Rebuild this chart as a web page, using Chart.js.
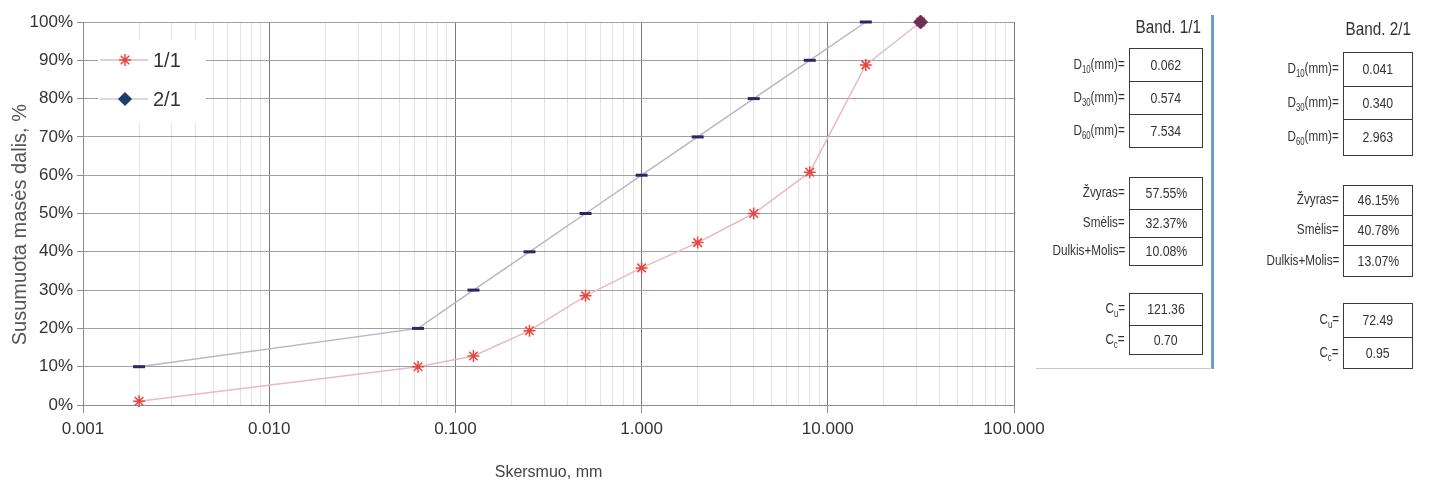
<!DOCTYPE html>
<html>
<head>
<meta charset="utf-8">
<script src="https://cdn.jsdelivr.net/npm/chart.js@4.4.0/dist/chart.umd.min.js"></script>
<style>
  body { margin: 0; background: #fff; width: 1441px; height: 486px; overflow: hidden; position: relative; }
  #wrap { position: absolute; left: 0; top: 0; width: 1060px; height: 486px; }
  .panel { position: absolute; font-family: "Liberation Sans", Arial, sans-serif; color: #333; font-size: 15px; }
  .title { position: absolute; font-size: 18px; text-align: right; white-space: nowrap; transform: scaleX(0.85); transform-origin: right center; }
  .lbl { position: absolute; text-align: right; white-space: nowrap; transform: scaleX(0.78); transform-origin: right center; }
  .box { position: absolute; border: 1.5px solid #3a3a3a; box-sizing: border-box; text-align: center; background: #fff; }
  .box span { display: inline-block; transform: scaleX(0.82); }
  sub { font-size: 10px; }
</style>
</head>
<body>
<div id="wrap"><canvas id="myChart"></canvas></div>
<div id="tables"></div>
<script>
// sieve sizes, mm
const sizes11 = [0.002, 0.063, 0.125, 0.25, 0.5, 1, 2, 4, 8, 16, 31.5];
const pass11 = [1, 10, 12.8, 19.4, 28.5, 35.8, 42.4, 50, 60.8, 88.8, 100];
const sizes21 = [31.5];
const pass21 = [100];
const sizesRef = [0.002, 0.063, 0.125, 0.25, 0.5, 1, 2, 4, 8, 16];
const passRef = [10, 20, 30, 40, 50, 60, 70, 80, 90, 100];
const yTicks = [0, 10, 20, 30, 40, 50, 60, 70, 80, 90, 100];

// right side tables
const band1 = { title: "Band. 1/1", d: ["0.062", "0.574", "7.534"], frac: ["57.55%", "32.37%", "10.08%"], c: ["121.36", "0.70"] };
const band2 = { title: "Band. 2/1", d: ["0.041", "0.340", "2.963"], frac: ["46.15%", "40.78%", "13.07%"], c: ["72.49", "0.95"] };
const dLabels = ["D<sub>10</sub>(mm)=", "D<sub>30</sub>(mm)=", "D<sub>60</sub>(mm)="];
const fracLabels = ["Žvyras=", "Smėlis=", "Dulkis+Molis="];
const cLabels = ["C<sub>u</sub>=", "C<sub>c</sub>="];

function isDecade(v) {
  let l = Math.log10(v);
  return Math.abs(l - Math.round(l)) < 1e-6;
}

function toXY(xs, ys) {
  return xs.map((x, i) => ({ x: x, y: ys[i] }));
}

const legendBox = {
  id: "legendBox",
  afterDatasetsDraw(chart) {
    const c = chart.ctx;
    c.save();
    c.fillStyle = "#fff";
    c.fillRect(98, 40, 108, 82);
    const items = [
      { y: 60, line: "#e9b9c1", text: "1/1", style: "star", col: "#e8453f" },
      { y: 99, line: "#d6c8cc", text: "2/1", style: "rectRot", col: "#1f3d6b" }
    ];
    items.forEach(it => {
      c.strokeStyle = it.line;
      c.lineWidth = 1.5;
      c.beginPath();
      c.moveTo(100, it.y);
      c.lineTo(148, it.y);
      c.stroke();
      c.strokeStyle = it.col;
      c.fillStyle = it.col;
      Chart.helpers.drawPoint(c, { pointStyle: it.style, radius: 6, borderWidth: 1.5 }, 125, it.y);
      c.fillStyle = "#333";
      c.font = "20px 'Liberation Sans', Arial, sans-serif";
      c.textBaseline = "middle";
      c.fillText(it.text, 153, it.y + 1);
    });
    c.restore();
  }
};

const ctx = document.getElementById("myChart").getContext("2d");
const myChart = new Chart(ctx, {
  type: "line",
  data: {
    datasets: [
      {
        label: "2/1",
        data: toXY(sizes21, pass21),
        borderColor: "#d6c8cc",
        clip: false,
        pointStyle: "rectRot",
        pointRadius: 7,
        pointBorderWidth: 1,
        pointBorderColor: "#6b2f4f",
        pointBackgroundColor: "#6b2f4f"
      },
      {
        label: "ref",
        data: toXY(sizesRef, passRef),
        borderColor: "#bdb3c4",
        borderWidth: 1.5,
        clip: false,
        pointStyle: "line",
        pointRadius: 6,
        pointBorderWidth: 3,
        pointBorderColor: "#2d2466",
        pointBackgroundColor: "#2d2466"
      },
      {
        label: "1/1",
        data: toXY(sizes11, pass11),
        borderColor: "#e9b9c1",
        borderWidth: 1.5,
        clip: false,
        pointStyle: "star",
        pointRadius: 6,
        pointBorderWidth: 1.5,
        pointBorderColor: "#e8453f",
        pointBackgroundColor: "#e8453f"
      }
    ]
  },
  options: {
    responsive: true,
    maintainAspectRatio: false,
    animation: false,
    layout: { padding: { top: 22, right: 46, left: 0, bottom: 0 } },
    plugins: {
      legend: { display: false },
      tooltip: { enabled: false }
    },
    scales: {
      x: {
        type: "logarithmic",
        min: 0.001,
        max: 100,
        afterBuildTicks(scale) {
          let t = [];
          for (let e = -3; e <= 2; e++) {
            for (let m = 1; m <= 9; m++) {
              let v = m * Math.pow(10, e);
              if (v <= 100.0001) t.push({ value: parseFloat(v.toPrecision(6)) });
            }
          }
          scale.ticks = t;
        },
        afterFit(scale) { scale.height = 81; },
        ticks: {
          autoSkip: false,
          maxRotation: 0,
          color: "#333",
          padding: 6,
          font: { family: "'Liberation Sans', Arial, sans-serif", size: 17 },
          callback: (v) => isDecade(v) ? v.toFixed(3) : ""
        },
        grid: {
          color: (c) => c.tick && isDecade(c.tick.value) ? "#7a7a7a" : "#e3e3e3",
          tickColor: (c) => c.tick && isDecade(c.tick.value) ? "#8c8c8c" : "rgba(0,0,0,0)",
          tickLength: 8,
          lineWidth: 1
        },
        border: { color: "#8c8c8c" },
        title: {
          display: true,
          text: "Skersmuo, mm",
          color: "#444",
          padding: { top: 12 },
          font: { family: "'Liberation Sans', Arial, sans-serif", size: 16 }
        }
      },
      y: {
        min: 0,
        max: 100,
        afterBuildTicks(scale) {
          scale.ticks = yTicks.map(v => ({ value: v }));
        },
        afterFit(scale) { scale.width = 83; },
        ticks: {
          color: "#333",
          padding: 4,
          font: { family: "'Liberation Sans', Arial, sans-serif", size: 17 },
          callback: (v) => v + "%"
        },
        grid: { color: "#a0a0a0", tickLength: 6, tickColor: "#8c8c8c" },
        border: { color: "#8c8c8c" },
        title: {
          display: true,
          // trailing spaces push the text a bit lower, as in the original
          text: "Susumuota masės dalis, %\u00a0\u00a0\u00a0\u00a0",
          color: "#555",
          padding: { top: 8, bottom: 0 },
          font: { family: "'Liberation Sans', Arial, sans-serif", size: 20 }
        }
      }
    }
  },
  plugins: [legendBox]
});

function showTable(band, boxL, boxW, titleRight, titleTop, rows) {
  let html = "";
  html += `<div class="title" style="right:${1441 - titleRight}px;top:${titleTop}px">${band.title}</div>`;
  const labels = dLabels.concat(fracLabels, cLabels);
  const vals = band.d.concat(band.frac, band.c);
  rows.forEach((r, i) => {
    html += `<div class="lbl" style="right:${1441 - boxL + 4}px;top:${r[0] + (r[1] - r[0]) / 2 - 10}px">${labels[i]}</div>`;
    html += `<div class="box" style="left:${boxL}px;width:${boxW}px;top:${r[0]}px;height:${r[1] - r[0] + 1}px;line-height:${r[1] - r[0] - 2}px"><span>${vals[i]}</span></div>`;
  });
  return html;
}

let plantilla = "";
plantilla += `<div class="panel" style="left:0;top:0;width:1441px;height:486px">`;
plantilla += showTable(band1, 1129, 74, 1201, 17,
  [[48, 81], [81, 114], [114, 147], [177, 209], [209, 237], [237, 265], [293, 325], [325, 354]]);
plantilla += showTable(band2, 1343, 70, 1411, 19,
  [[52, 86], [86, 119], [119, 155], [185, 215], [215, 245], [245, 276], [303, 337], [337, 368]]);
plantilla += `<div style="position:absolute;left:1211px;top:15px;width:3px;height:354px;background:#6b9bd1"></div>`;
plantilla += `<div style="position:absolute;left:1036px;top:368px;width:176px;height:1px;background:#c8c8c8"></div>`;
plantilla += `</div>`;
document.querySelector("#tables").innerHTML = plantilla;
</script>
</body>
</html>
